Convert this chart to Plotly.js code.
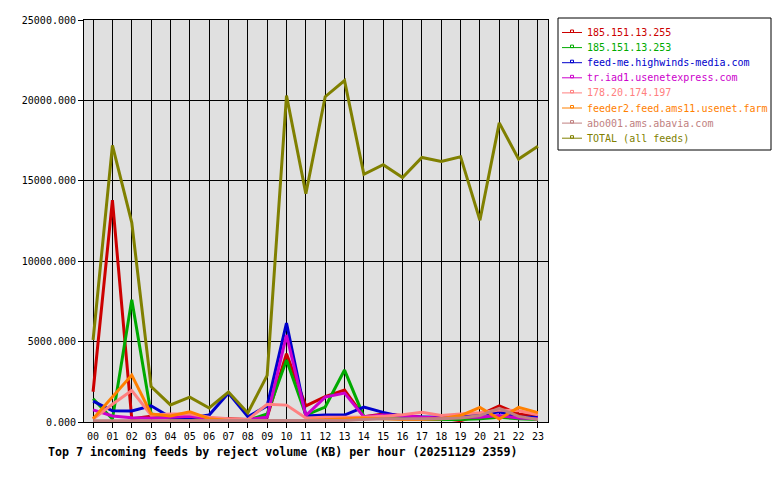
<!DOCTYPE html>
<html>
<head>
<meta charset="utf-8">
<script src="https://cdn.plot.ly/plotly-3.0.1.min.js"></script>
<style>html,body{margin:0;padding:0;background:#fff;}#chart{width:780px;height:480px;}</style>
</head>
<body>
<div id="chart"></div>
<script>
var hours = ['00','01','02','03','04','05','06','07','08','09','10','11','12','13','14','15','16','17','18','19','20','21','22','23'];

var names = ['185.151.13.255','185.151.13.253','feed-me.highwinds-media.com','tr.iad1.usenetexpress.com','178.20.174.197','feeder2.feed.ams11.usenet.farm','abo001.ams.abavia.com','TOTAL (all feeds)'];
var colors = ['#cc0000','#00aa00','#0000cc','#cc00cc','#ff8080','#ff8000','#c08080','#808000'];

var feed255 = [1880,13800,200,350,250,200,150,200,150,300,4250,1000,1580,1990,330,500,400,300,250,80,450,1000,500,350];
var feed253 = [1450,190,7600,500,250,200,150,100,100,500,3850,430,930,3230,330,250,200,150,150,150,200,300,200,150];
var highwinds = [1300,700,680,1010,300,250,430,1800,330,1000,6150,370,430,430,930,600,330,300,300,450,430,640,300,300];
var usenetexpress = [750,370,270,230,300,350,200,150,150,300,5400,400,1550,1800,330,430,400,300,250,300,300,400,250,200];
var feed197 = [190,1100,1950,430,500,490,300,200,150,1100,1050,250,300,300,300,350,450,600,400,500,580,750,700,450];
var ams11 = [200,1550,2920,500,370,640,200,100,80,80,80,100,150,200,250,200,150,150,200,400,910,190,910,580];
var abavia = [80,80,80,80,80,80,80,80,80,80,80,80,80,100,150,200,200,200,200,250,400,850,350,150];
var total = [5100,17200,12400,2200,1060,1550,870,1860,560,2900,20300,14200,20230,21230,15400,16000,15200,16450,16200,16500,12550,18600,16350,17150];

var series = [feed255, feed253, highwinds, usenetexpress, feed197, ams11, abavia, total];

var traces = series.map(function(s, i){
  return {
    x: hours, y: s, type: 'scatter', mode: 'lines',
    name: names[i],
    line: {color: colors[i], width: 3},
    hoverinfo: 'skip', showlegend: false
  };
});

var font = {family: 'DejaVu Sans Mono, monospace', size: 10, color: '#000'};

// plot area in pixels
var L = 84, R = 548, T = 20, B = 422;
function px(x){ return (x - L) / (R - L); }
function py(y){ return (B - y) / (B - T); }

// custom legend (compact spacing like the reference)
var shapes = [{
  type: 'rect', xref: 'paper', yref: 'paper',
  x0: px(558), x1: px(771), y0: py(18), y1: py(150),
  line: {color: '#000', width: 1}, fillcolor: '#ffffff', layer: 'above'
}];
var annotations = [];
names.forEach(function(n, i){
  var yc = 32.5 + 15.1 * i;
  shapes.push({type: 'line', xref: 'paper', yref: 'paper',
    x0: px(562), x1: px(582), y0: py(yc), y1: py(yc),
    line: {color: colors[i], width: 1}, layer: 'above'});
  shapes.push({type: 'rect', xref: 'paper', yref: 'paper',
    x0: px(570.5), x1: px(573.5), y0: py(yc), y1: py(yc - 2.5),
    line: {color: colors[i], width: 1}, fillcolor: 'rgba(0,0,0,0)', layer: 'above'});
  annotations.push({xref: 'paper', yref: 'paper', x: px(585), y: py(yc),
    xanchor: 'left', yanchor: 'middle', showarrow: false, text: n,
    font: {family: 'DejaVu Sans Mono, monospace', size: 10, color: colors[i]}});
});

var layout = {
  width: 780, height: 480,
  margin: {l: L, r: 780 - R, t: T, b: 480 - B, pad: 0, autoexpand: false},
  paper_bgcolor: '#ffffff',
  plot_bgcolor: '#e0e0e0',
  font: font,
  showlegend: false,
  shapes: shapes,
  annotations: annotations,
  title: {
    text: '<b>Top 7 incoming feeds by reject volume (KB) per hour (20251129 2359)</b>',
    x: 0.0615, xanchor: 'left', xref: 'container',
    y: 0.0583, yanchor: 'middle', yref: 'container',
    font: {family: 'DejaVu Sans Mono, monospace', size: 11.65, color: '#000'}
  },
  xaxis: {
    type: 'category', range: [-0.47, 23.52],
    showgrid: true, gridcolor: '#000000', gridwidth: 1,
    showline: true, linecolor: '#000000', linewidth: 1, mirror: true,
    ticks: 'outside', ticklen: 5, tickcolor: '#000', tickwidth: 1,
    tickfont: font, zeroline: false, fixedrange: true
  },
  yaxis: {
    range: [0, 25000], tickvals: [0,5000,10000,15000,20000,25000], tickformat: '.3f',
    showgrid: true, gridcolor: '#000000', gridwidth: 1,
    showline: true, linecolor: '#000000', linewidth: 1, mirror: true,
    ticks: 'outside', ticklen: 5, tickcolor: '#000', tickwidth: 1,
    tickfont: font, zeroline: false, fixedrange: true
  }
};

Plotly.newPlot('chart', traces, layout, {displayModeBar: false, staticPlot: true});
</script>
</body>
</html>
